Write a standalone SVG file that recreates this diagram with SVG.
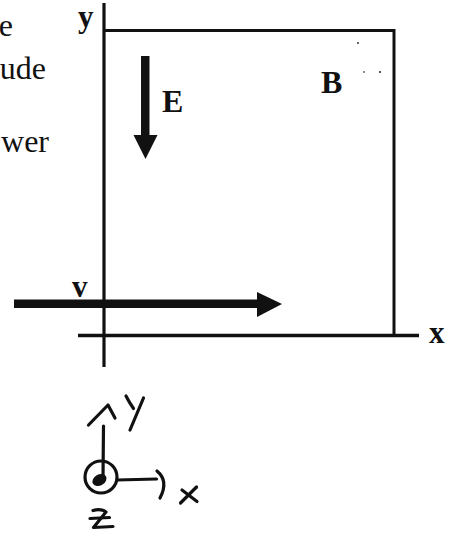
<svg xmlns="http://www.w3.org/2000/svg" width="457" height="535" viewBox="0 0 457 535">
  <style>
    .body { font-family: "Liberation Serif", "Times New Roman", serif; font-size: 32px; fill: #111; }
    .lbl { font-family: "Liberation Serif", "Times New Roman", serif; font-size: 31px; font-weight: bold; fill: #111; }
    .cap { font-size: 32px; }
    .ln { stroke: #111; fill: none; stroke-linecap: butt; }
    .hand { stroke: #111; fill: none; stroke-width: 3.2; stroke-linecap: round; stroke-linejoin: round; }
  </style>
  <rect width="457" height="535" fill="#ffffff"/>

  <g id="margin-text">
    <text class="body" x="13" y="36" text-anchor="end">e</text>
    <text class="body" x="46" y="79" text-anchor="end">ude</text>
    <text class="body" x="49" y="152" text-anchor="end">wer</text>
  </g>

  <g id="axes">
    <line class="ln" x1="104" y1="3" x2="104" y2="367" stroke-width="3.2"/>
    <line class="ln" x1="78" y1="335.5" x2="419" y2="335.5" stroke-width="3.5"/>
    <text class="lbl" x="78" y="27">y</text>
    <text class="lbl" x="429" y="343">x</text>
  </g>

  <g id="field-region">
    <polyline class="ln" points="104,30.5 394,30.5 394,335" stroke-width="3"/>
    <text class="lbl cap" x="321" y="93">B</text>
    <circle cx="358" cy="43" r="1" fill="#333"/>
    <circle cx="364" cy="72" r="0.9" fill="#555"/>
    <circle cx="380" cy="72" r="1.1" fill="#333"/>
  </g>

  <g id="E-field">
    <rect x="141" y="56" width="8.5" height="80" fill="#111"/>
    <polygon points="133.5,135 157.5,135 145.5,159" fill="#111"/>
    <text class="lbl cap" x="162" y="112">E</text>
  </g>

  <g id="velocity">
    <rect x="14" y="299.5" width="244" height="8.5" fill="#111"/>
    <polygon points="257,292 257,317 282,304" fill="#111"/>
    <text class="lbl" x="72" y="297">v</text>
  </g>

  <g id="coord-sketch">
    <circle class="hand" cx="101" cy="477" r="16"/>
    <ellipse cx="99.5" cy="480" rx="7.5" ry="5.5" transform="rotate(-30 99.5 480)" fill="#111"/>
    <path class="hand" d="M103,478 L103.5,426"/>
    <path class="hand" d="M88.5,425 L108,405 L115,418"/>
    <path class="hand" d="M126,396 Q129,402 133.5,408.5"/>
    <path class="hand" d="M143.5,398 L130,430"/>
    <path class="hand" d="M117,480 L156.5,479"/>
    <path class="hand" d="M157,471 Q169,481 160,498"/>
    <path class="hand" d="M196.5,487 L180.5,503"/>
    <path class="hand" d="M182,490 L197,501.5"/>
    <path class="hand" d="M93,510.5 Q101,508 106,512 L93.5,527.5 Q103,527 113,526.5"/>
    <path class="hand" d="M90,518.5 L109.5,517.5"/>
  </g>
</svg>
